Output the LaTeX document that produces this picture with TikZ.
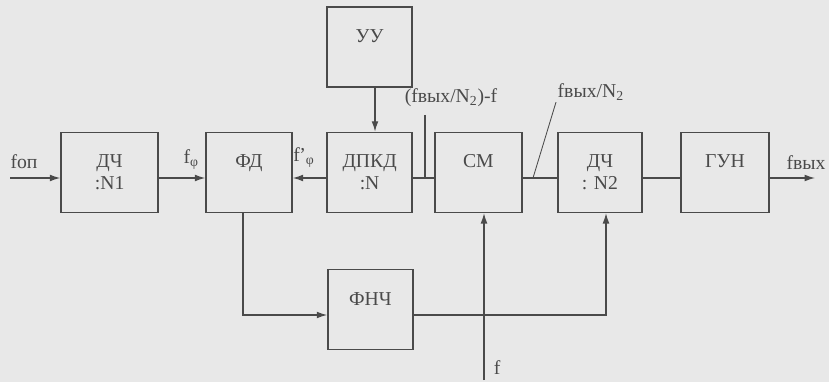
\documentclass[tikz,border=0pt]{standalone}
\usepackage{fontspec}
\setmainfont{Liberation Serif}
\usetikzlibrary{arrows.meta,positioning,calc}
\definecolor{ink}{HTML}{4A4A4A}
\definecolor{paper}{HTML}{E8E8E8}

\begin{document}
\begin{tikzpicture}[
   font=\fontsize{14}{15.6}\selectfont,
   blk/.style={draw=ink,line width=1pt,text=ink,align=center,
      minimum width=#1,minimum height=2cm,inner sep=0pt},
   blk/.default=2.15cm,
   sig/.style={draw=ink,line width=0.9pt},
   arr/.style={sig,-{Latex[length=2.6mm,width=1.7mm]}},
   lbl/.style={text=ink,inner sep=1pt}]
  \fill[paper] (0,0) rectangle (20.725,9.55);
  \useasboundingbox (0,0) rectangle (20.725,9.55);
  % blocks
  \node[blk=2.43cm] (dch1) at (2.74,5.24) {ДЧ\\:N1};
  \node[blk] (fd) at (6.225,5.24) {ФД\\~};
  \node[blk=2.125cm] (dpkd) at (9.24,5.24) {ДПКД\\:N};
  \node[blk=2.125cm] (uu) at (9.24,8.375) {УУ\\~};
  \node[blk=2.18cm] (sm) at (11.96,5.24) {СМ\\~};
  \node[blk=2.1cm] (dch2) at (15.0,5.24) {ДЧ\\: N2};
  \node[blk=2.2cm] (gun) at (18.125,5.24) {ГУН\\~};
  \node[blk=2.125cm] (fnch) at (9.26,1.81) {ФНЧ\\~};
  % free ends
  \coordinate (in) at (0.25,5.1);
  \coordinate (out) at (20.375,5.1);
  \coordinate (fin) at (12.1,0.05);
  \coordinate (tk) at (10.625,6.675);
  \coordinate (ld) at (13.325,5.1);
  % signal path
  \draw[arr] (in) -- ([yshift=-1.4mm]dch1.west);
  \draw[arr] ([yshift=-1.4mm]dch1.east) -- ([yshift=-1.4mm]fd.west);
  \draw[arr] ([yshift=-1.4mm]dpkd.west) -- ([yshift=-1.4mm]fd.east);
  \draw[arr] ([xshift=1.35mm]uu.south) -- ([xshift=1.35mm]dpkd.north);
  \draw[sig] ([yshift=-1.4mm]dpkd.east) -- ([yshift=-1.4mm]sm.west);
  \draw[sig] ([yshift=-1.4mm]sm.east) -- ([yshift=-1.4mm]dch2.west);
  \draw[sig] ([yshift=-1.4mm]dch2.east) -- ([yshift=-1.4mm]gun.west);
  \draw[arr] ([yshift=-1.4mm]gun.east) -- (out);
  \draw[arr] ([xshift=-1.5mm]fd.south) |- ([yshift=-1.35mm]fnch.west);
  \draw[arr] ([yshift=-1.35mm]fnch.east) -| ([xshift=1.5mm]dch2.south);
  \draw[arr] (fin) -- ([xshift=1.4mm]sm.south);
  % labels
  \node[lbl] (fop) at (0.6,5.5) {fоп};
  \node[lbl] (fphi) at (4.78,5.55) {f\textsubscript{φ}};
  \node[lbl] (fphid) at (7.6,5.6) {f\kern-0.5pt'\textsubscript{φ}};
  \node[lbl] (lbdiff) at (11.275,7.1) {(fвых/N\textsubscript{2})-f};
  \node[lbl,anchor=west] (lbn2) at (13.9,7.25) {fвых/N\textsubscript{2}};
  \node[lbl] (lbout) at (20.15,5.475) {fвых};
  \node[lbl] (lbf) at (12.43,0.35) {f};
  \draw[sig] (tk) -- (tk |- ld);
  \draw[sig,line width=0.6pt] (ld) -- (lbn2.south west);
\end{tikzpicture}
\end{document}
